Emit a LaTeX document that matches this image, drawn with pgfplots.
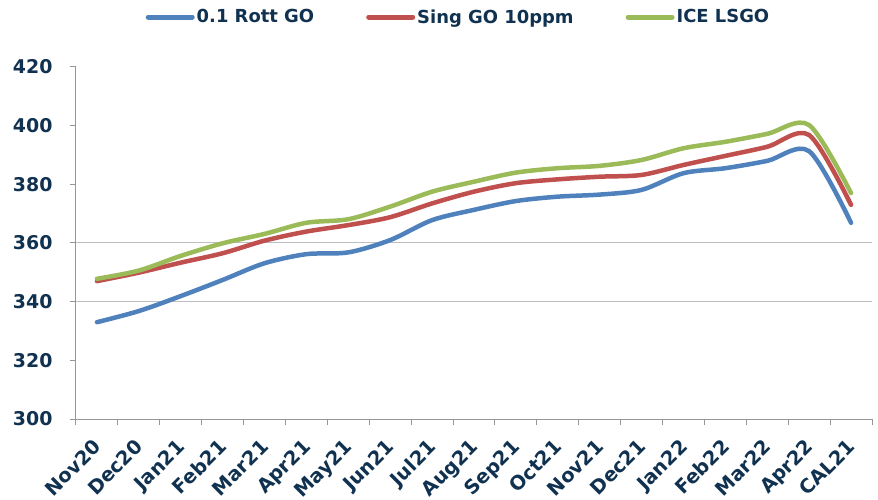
\documentclass[border=0pt]{standalone}
\usepackage{pgfplots}
\pgfplotsset{compat=1.18}
\usepackage{fontspec}
\setmainfont{DejaVu Sans}
\definecolor{cblue}{RGB}{79,129,189}
\definecolor{cred}{RGB}{192,80,77}
\definecolor{cgreen}{RGB}{155,187,89}
\definecolor{txt}{RGB}{16,50,80}
\definecolor{axgray}{RGB}{150,150,150}
\definecolor{gridgray}{RGB}{188,190,196}
\begin{document}
\begin{tikzpicture}
\begin{axis}[
  scale only axis, width=796bp, height=352bp,
  xmin=-0.5, xmax=18.5, ymin=300, ymax=420,
  axis lines*=left,
  axis line style={axgray, line width=1bp},
  tick align=outside,
  major tick length=6bp,
  tick style={axgray, line width=1bp},
  ytick={300,320,...,420},
  xtick={-0.5,0.5,...,18.5},
  xticklabels={,,,,,,,,,,,,,,,,,,,,,},
  extra x ticks={0,1,...,18},
  extra x tick labels={Nov20,Dec20,Jan21,Feb21,Mar21,Apr21,May21,Jun21,Jul21,Aug21,Sep21,Oct21,Nov21,Dec21,Jan22,Feb22,Mar22,Apr22,CAL21},
  extra x tick style={major tick length=0pt, xticklabel style={xshift=-5bp, yshift=-14bp, rotate=45, anchor=north east}},
  extra y ticks={340,360},
  extra y tick labels={},
  extra y tick style={grid=major, major tick length=0pt, major grid style={gridgray, line width=1bp}},
  /pgf/number format/assume math mode=true,
  tick label style={font=\fontsize{19.5}{23}\selectfont\bfseries, text=txt},
  yticklabel style={font=\fontsize{19}{23}\selectfont\bfseries, xshift=-14bp},
  legend style={at={(0.4805,1.142)}, anchor=center, draw=none, fill=none,
    legend columns=3, font=\fontsize{18}{20}\selectfont\bfseries, text=txt,
    /tikz/every odd column/.append style={column sep=0bp},
    /tikz/every even column/.append style={column sep=50bp}},
  legend image code/.code={\draw[#1, line width=5bp, line cap=round] (0bp,0bp) -- (44bp,0bp);},
]
\addplot[cblue, line width=4.5bp, smooth, line cap=round] coordinates {
(0,333.0) (1,336.8) (2,341.9) (3,347.4) (4,353.1) (5,356.2) (6,356.8) (7,361.0) (8,367.8) (9,371.3) (10,374.3) (11,375.8) (12,376.5) (13,378.1) (14,383.8) (15,385.5) (16,388.0) (17,391.3) (18,366.9)};
\addlegendentry{0.1 Rott GO}
\addplot[cred, line width=4.5bp, smooth, line cap=round] coordinates {
(0,347.0) (1,349.9) (2,353.3) (3,356.5) (4,360.8) (5,363.9) (6,366.1) (7,368.8) (8,373.5) (9,377.5) (10,380.4) (11,381.7) (12,382.6) (13,383.2) (14,386.6) (15,389.7) (16,392.8) (17,396.8) (18,373.0)};
\addlegendentry{Sing GO 10ppm}
\addplot[cgreen, line width=4.5bp, smooth, line cap=round] coordinates {
(0,347.8) (1,350.6) (2,355.6) (3,359.9) (4,363.1) (5,366.9) (6,368.1) (7,372.4) (8,377.5) (9,380.9) (10,384.0) (11,385.5) (12,386.3) (13,388.3) (14,392.3) (15,394.5) (16,397.2) (17,400.2) (18,377.0)};
\addlegendentry{ICE LSGO}
\end{axis}
\pgfresetboundingbox
\path[use as bounding box] ([xshift=-76bp,yshift=-81bp]current axis.south west) rectangle ([xshift=6bp,yshift=67bp]current axis.north east);
\end{tikzpicture}
\end{document}
